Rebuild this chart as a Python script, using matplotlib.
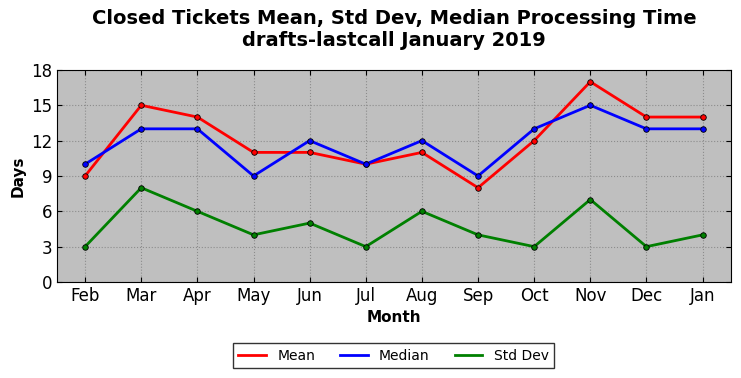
import matplotlib
matplotlib.use("Agg")
import matplotlib.pyplot as plt
from matplotlib.lines import Line2D

months = ["Feb", "Mar", "Apr", "May", "Jun", "Jul", "Aug", "Sep", "Oct", "Nov", "Dec", "Jan"]
mean_vals = [9, 15, 14, 11, 11, 10, 11, 8, 12, 17, 14, 14]
median_vals = [10, 13, 13, 9, 12, 10, 12, 9, 13, 15, 13, 13]
std_vals = [3, 8, 6, 4, 5, 3, 6, 4, 3, 7, 3, 4]
yticks = [0, 3, 6, 9, 12, 15, 18]

fig = plt.figure(figsize=(7.41, 3.78), dpi=100)
ax = fig.add_axes([0.077, 0.254, 0.909, 0.561])
ax.set_facecolor("#bfbfbf")
x = list(range(len(months)))
handles = []
for vals, color, label in [(mean_vals, "red", "Mean"), (median_vals, "blue", "Median"), (std_vals, "green", "Std Dev")]:
    ax.plot(x, vals, color=color, lw=2, marker="o", ms=4, mfc=color, mec="black", mew=0.6)
    handles.append(Line2D([], [], color=color, lw=2, label=label))
ax.set_xlim(-0.5, len(months) - 0.5)
ax.set_ylim(0, 18)
ax.set_yticks(yticks)
ax.set_xticks(x)
ax.set_xticklabels(months)
ax.tick_params(labelsize=12, direction="in", top=True, right=True)
ax.grid(True, linestyle=":", color="#8c8c8c", lw=0.8)
ax.set_axisbelow(True)
ax.set_xlabel("Month", fontsize=11, fontweight="bold")
ax.set_ylabel("Days", fontsize=11, fontweight="bold")
ax.set_title("Closed Tickets Mean, Std Dev, Median Processing Time\ndrafts-lastcall January 2019",
             fontsize=14, fontweight="bold", pad=17)
fig.legend(handles=handles, loc="center", bbox_to_anchor=(0.531, 0.059), ncol=3, fontsize=10, frameon=True,
           fancybox=False, edgecolor="black", handlelength=2.0, columnspacing=1.8, borderpad=0.4)
fig.savefig("out.png", dpi=100)
